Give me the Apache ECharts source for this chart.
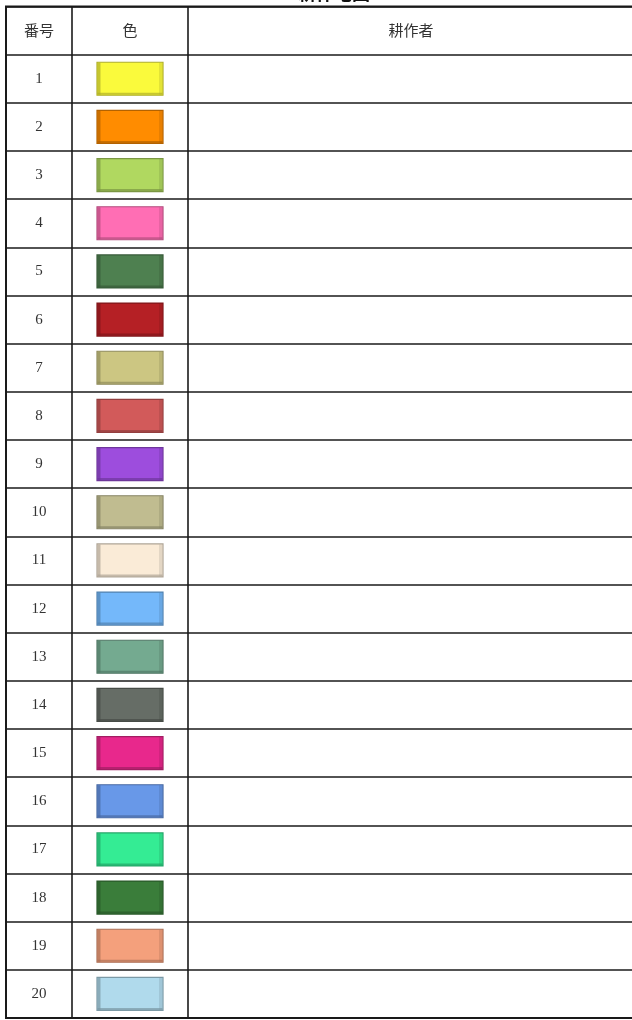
<!DOCTYPE html>
<html>
<head>
<meta charset="utf-8">
<script src="https://cdn.jsdelivr.net/npm/echarts@6/dist/echarts.min.js"></script>
<style>
html,body{margin:0;padding:0;background:#fff;}
#chart{width:632px;height:1020px;}
</style>
</head>
<body>
<div id="chart"></div>
<script>
// ---- data ----
const titleText = '耕作地図';
const headers = ['番号', '色', '耕作者'];
const rowNumbers = ['1','2','3','4','5','6','7','8','9','10','11','12','13','14','15','16','17','18','19','20'];
const swatchColors = ['#FAFA3C','#FF8C00','#B0D860','#FF6EB4','#4E8050','#B52025','#CCC682','#D25A5A','#9D4DDD','#C0BC90',
                      '#FAEBD7','#74B8FA','#74AA90','#666D66','#E8288C','#6898E8','#34EC94','#3A7D3A','#F4A07C','#B0DAEC'];
const farmers = ['','','','','','','','','','','','','','','','','','','',''];
const categories = ['header'].concat(rowNumbers);

// column layout in axis units (px inside grid)
const colBounds = [0, 66, 182, 632];
const colCenters = [33, 124, 405];

const chart = echarts.init(document.getElementById('chart'), null, {renderer: 'canvas'});
const serifFont = '"Liberation Serif","DejaVu Serif","Noto Sans CJK JP",serif';
const cjkFont = '"Noto Sans CJK JP","Noto Sans CJK SC",sans-serif';

const rowData = rowNumbers.map((n, i) => [i + 1, n, swatchColors[i], farmers[i]]);
const headerData = [[0]];

function darken(c, k) {
  const p = echarts.color.parse(c);
  return 'rgb(' + Math.round(p[0] * k) + ',' + Math.round(p[1] * k) + ',' + Math.round(p[2] * k) + ')';
}

chart.setOption({
  animation: false,
  backgroundColor: '#fff',
  graphic: [{
    type: 'text', left: 298, top: -16,
    style: {text: titleText, font: 'bold 18px ' + cjkFont, fill: '#111'}
  }],
  grid: {left: 6, right: -6, top: 6.5, bottom: 2, show: true, borderColor: '#1a1a1a', borderWidth: 2,
         backgroundColor: 'transparent', outerBoundsMode: 'none', containLabel: false},
  xAxis: {type: 'value', min: 0, max: 632, show: false},
  yAxis: {
    type: 'category', data: categories, inverse: true,
    axisLine: {show: false}, axisTick: {show: false}, axisLabel: {show: false},
    splitLine: {show: true, lineStyle: {color: '#1a1a1a', width: 1.6}}
  },
  series: [
    {
      type: 'custom', data: headerData,
      renderItem: function (params, api) {
        const y = api.coord([0, 0])[1];
        return {
          type: 'group',
          children: headers.map((h, k) => ({
            type: 'text',
            style: {text: h, x: api.coord([colCenters[k], 0])[0], y: y, align: 'center', verticalAlign: 'middle',
                    font: '15px ' + cjkFont, fill: '#333'}
          }))
        };
      },
      markLine: {
        silent: true, symbol: 'none', label: {show: false},
        lineStyle: {color: '#1a1a1a', width: 1.6, type: 'solid'},
        data: [{xAxis: colBounds[1]}, {xAxis: colBounds[2]}]
      }
    },
    {
      type: 'custom', data: rowData,
      renderItem: function (params, api) {
        const idx = api.value(0);
        const yc = api.coord([0, idx])[1];
        const num = rowNumbers[params.dataIndex];
        const col = swatchColors[params.dataIndex];
        const dark = darken(col, 0.7);
        const w = api.size([66, 0])[0];
        const h = 33;
        const cx = api.coord([colCenters[1], idx])[0];
        const x0 = cx - w / 2, y0 = yc - h / 2;
        return {
          type: 'group',
          children: [
            {type: 'text', style: {text: num, x: api.coord([colCenters[0], idx])[0], y: yc, align: 'center', verticalAlign: 'middle',
                                   font: '15px ' + serifFont, fill: '#333'}},
            {type: 'rect', shape: {x: x0, y: y0, width: w, height: h}, style: {fill: col, stroke: dark, lineWidth: 1.2}},
            {type: 'rect', shape: {x: x0 + 0.5, y: y0 + 0.5, width: 3, height: h - 1}, style: {fill: dark, opacity: 0.7}},
            {type: 'rect', shape: {x: x0 + 0.5, y: y0 + h - 2.5, width: w - 1, height: 2}, style: {fill: dark, opacity: 0.7}},
            {type: 'rect', shape: {x: x0 + w - 4, y: y0 + 0.5, width: 3, height: h - 1}, style: {fill: dark, opacity: 0.3}},
            {type: 'text', style: {text: farmers[params.dataIndex], x: api.coord([colCenters[2], idx])[0], y: yc,
                                   align: 'center', verticalAlign: 'middle', font: '14px ' + cjkFont, fill: '#333'}}
          ]
        };
      }
    }
  ]
});
</script>
</body>
</html>
